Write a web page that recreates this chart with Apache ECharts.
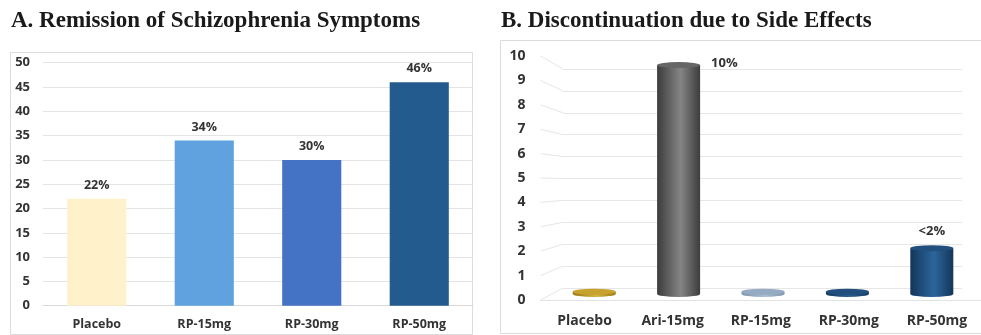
<!DOCTYPE html>
<html>
<head>
<meta charset="utf-8">
<script src="https://cdn.jsdelivr.net/npm/echarts@6/dist/echarts.min.js"></script>
<style>
  html, body { margin: 0; padding: 0; background: #ffffff; }
  #chart { width: 981px; height: 335px; }
</style>
</head>
<body>
<div id="chart"></div>
<script>
// Panel A: remission of schizophrenia symptoms (%)
const remissionCategories = ['Placebo', 'RP-15mg', 'RP-30mg', 'RP-50mg'];
const remissionValues = [22, 34, 30, 46];
const remissionTicks = { min: 0, max: 50, step: 5 };

// Panel B: discontinuation due to side effects (%)
const discontCategories = ['Placebo', 'Ari-15mg', 'RP-15mg', 'RP-30mg', 'RP-50mg'];
const discontValues = [0.1, 10, 0.1, 0.1, 2];
const discontLabels = ['', '10%', '', '', '<2%'];
const discontTicks = { min: 0, max: 10, step: 1 };

// Styling
const remissionColors = ['#FFF1CA', '#5FA2DF', '#4472C4', '#245B8E'];
const cylinderColors = [
  { edge: '#9a7b16', mid: '#d4b240', cap: '#c7a22e' },
  { edge: '#3c3c3c', mid: '#858585', cap: '#666666' },
  { edge: '#7d95ae', mid: '#a9bed3', cap: '#94abc3' },
  { edge: '#163b61', mid: '#2b5f92', cap: '#224f7d' },
  { edge: '#143659', mid: '#2c669c', cap: '#21507f' }
];

const LABEL_FONT = '"Open Sans", "DejaVu Sans", sans-serif';
const TITLE_FONT = '"Liberation Serif", "Times New Roman", serif';
const TEXT_DARK = '#333333';

// Perspective layout of panel B: front plane (labels), middle (bars), back wall (grid)
const FRONT = { left: 540.5, right: -4.5, top: 56, bottom: 35 };
const MID   = { left: 552, right: 7, top: 65, bottom: 41 };
const BACK  = { left: 563, right: 19, top: 69, bottom: 47 };

function cylinderGradient(c) {
  return new echarts.graphic.LinearGradient(0, 0, 1, 0, [
    { offset: 0, color: c.edge },
    { offset: 0.55, color: c.mid },
    { offset: 1, color: c.edge }
  ]);
}

const chart = echarts.init(document.getElementById('chart'), null, { renderer: 'canvas' });

const option = {
  animation: false,
  backgroundColor: '#ffffff',
  title: [
    {
      text: 'A. Remission of Schizophrenia Symptoms',
      left: 6, top: 5,
      textStyle: { fontFamily: TITLE_FONT, fontWeight: 'bold', fontSize: 23, color: '#1a1a1a' }
    },
    {
      text: 'B. Discontinuation due to Side Effects',
      left: 496, top: 5,
      textStyle: { fontFamily: TITLE_FONT, fontWeight: 'bold', fontSize: 23, color: '#1a1a1a' }
    }
  ],
  graphic: [
    { type: 'rect', shape: { x: 10.5, y: 52.5, width: 462, height: 282 },
      style: { fill: 'none', stroke: '#dcdcdc', lineWidth: 1 }, silent: true },
    { type: 'rect', shape: { x: 500.5, y: 40.5, width: 490, height: 293 },
      style: { fill: 'none', stroke: '#dcdcdc', lineWidth: 1 }, silent: true }
  ],
  grid: [
    { left: 43, right: 508, top: 62.7, bottom: 29.3 },                       // A
    { left: FRONT.left, right: FRONT.right, top: FRONT.top, bottom: FRONT.bottom }, // B front
    { left: BACK.left, right: BACK.right, top: BACK.top, bottom: BACK.bottom },     // B back wall
    { left: MID.left, right: MID.right, top: MID.top, bottom: MID.bottom }          // B bars
  ],
  xAxis: [
    {
      gridIndex: 0, type: 'category', data: remissionCategories,
      axisTick: { show: false },
      axisLine: { lineStyle: { color: '#d9d9d9' } },
      axisLabel: { margin: 12, fontFamily: LABEL_FONT, fontWeight: 'bold', fontSize: 12.5, color: TEXT_DARK }
    },
    {
      gridIndex: 1, type: 'category', data: discontCategories,
      axisTick: { show: false },
      axisLine: { lineStyle: { color: '#e2e2e2' } },
      axisLabel: { margin: 14, fontFamily: LABEL_FONT, fontWeight: 'bold', fontSize: 14, color: TEXT_DARK }
    },
    { gridIndex: 2, type: 'category', data: discontCategories, show: false },
    { gridIndex: 3, type: 'category', data: discontCategories, show: false }
  ],
  yAxis: [
    {
      gridIndex: 0, type: 'value',
      min: remissionTicks.min, max: remissionTicks.max, interval: remissionTicks.step,
      axisLine: { show: false }, axisTick: { show: false },
      splitLine: { lineStyle: { color: '#e4e4e4' } },
      axisLabel: { margin: 13, fontFamily: LABEL_FONT, fontWeight: 'bold', fontSize: 13, color: TEXT_DARK }
    },
    {
      gridIndex: 1, type: 'value',
      min: discontTicks.min, max: discontTicks.max, interval: discontTicks.step,
      axisLine: { show: false }, axisTick: { show: false },
      splitLine: { show: false },
      axisLabel: { margin: 15, fontFamily: LABEL_FONT, fontWeight: 'bold', fontSize: 14, color: TEXT_DARK }
    },
    {
      gridIndex: 2, type: 'value',
      min: discontTicks.min, max: discontTicks.max, interval: discontTicks.step,
      axisLine: { show: false }, axisTick: { show: false }, axisLabel: { show: false },
      splitLine: { lineStyle: { color: '#e6e6e6' } }
    },
    {
      gridIndex: 3, type: 'value',
      min: discontTicks.min, max: discontTicks.max,
      show: false, splitLine: { show: false }
    }
  ],
  series: [
    {
      name: 'Remission', type: 'bar', xAxisIndex: 0, yAxisIndex: 0,
      barCategoryGap: '45%',
      data: remissionValues.map((v, i) => ({ value: v, itemStyle: { color: remissionColors[i] } })),
      label: {
        show: true, position: 'top', distance: 7, formatter: '{c}%',
        fontFamily: LABEL_FONT, fontWeight: 'bold', fontSize: 12.5, color: TEXT_DARK
      }
    },
    // placeholders so the front-plane and back-wall axes are laid out
    { type: 'line', xAxisIndex: 1, yAxisIndex: 1, data: [], silent: true },
    { type: 'line', xAxisIndex: 2, yAxisIndex: 2, data: [], silent: true },
    // cylinder bodies
    {
      name: 'Discontinuation', type: 'bar', xAxisIndex: 3, yAxisIndex: 3,
      barWidth: 43, z: 3,
      data: discontValues.map((v, i) => ({
        value: v,
        itemStyle: { color: cylinderGradient(cylinderColors[i]) },
        label: discontLabels[i] === '' ? { show: false } :
          (i === 1
            ? { show: true, position: [54, -8] }
            : { show: true, position: 'top', distance: 10 })
      })),
      label: {
        show: true,
        formatter: p => discontLabels[p.dataIndex],
        fontFamily: LABEL_FONT, fontWeight: 'bold', fontSize: 13, color: TEXT_DARK
      }
    },
    // cylinder bottoms
    {
      type: 'pictorialBar', xAxisIndex: 3, yAxisIndex: 3,
      symbol: 'circle', symbolSize: [43, 6], symbolPosition: 'start', symbolOffset: [0, '50%'],
      z: 2, silent: true,
      data: discontValues.map((v, i) => ({ value: v, itemStyle: { color: cylinderGradient(cylinderColors[i]) } }))
    },
    // cylinder tops
    {
      type: 'pictorialBar', xAxisIndex: 3, yAxisIndex: 3,
      symbol: 'circle', symbolSize: [43, 6], symbolPosition: 'end', symbolOffset: [0, '-50%'],
      z: 4, silent: true,
      data: discontValues.map((v, i) => ({ value: v, itemStyle: { color: cylinderColors[i].cap } }))
    }
  ]
};

chart.setOption(option);

// Receding grid edges joining the front axis to the back wall
const edges = [];
for (let v = discontTicks.min; v <= discontTicks.max; v += discontTicks.step) {
  const yFront = chart.convertToPixel({ yAxisIndex: 1 }, v);
  const yBack = chart.convertToPixel({ yAxisIndex: 2 }, v);
  edges.push({
    type: 'line', silent: true, z: 0,
    shape: { x1: FRONT.left, y1: yFront, x2: BACK.left, y2: yBack },
    style: { stroke: '#e6e6e6', lineWidth: 1 }
  });
}
chart.setOption({ graphic: option.graphic.concat(edges) });
</script>
</body>
</html>
